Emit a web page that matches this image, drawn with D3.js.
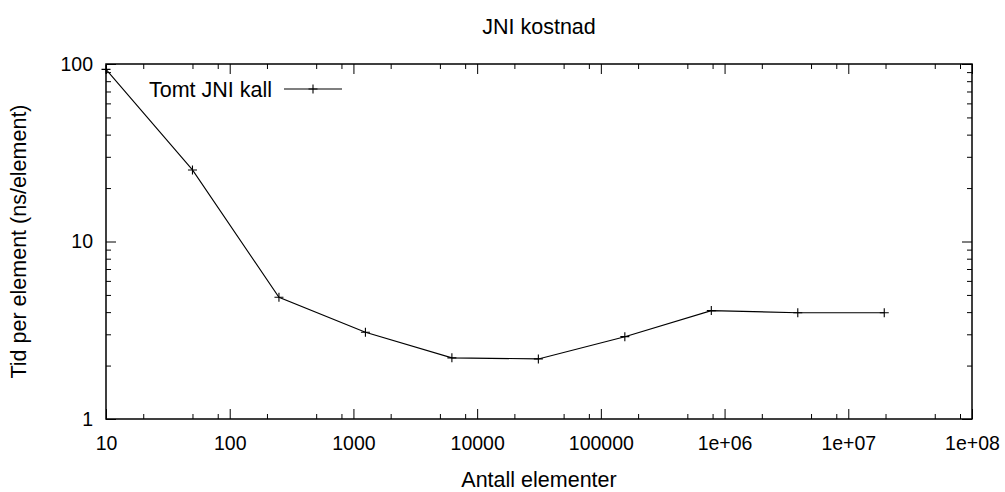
<!DOCTYPE html>
<html>
<head>
<meta charset="utf-8">
<script src="https://cdn.jsdelivr.net/npm/d3@7"></script>
<style>
  html, body { margin: 0; padding: 0; background: #fff; }
  svg { display: block; font-family: "Liberation Sans", Arial, Helvetica, sans-serif; }
</style>
</head>
<body>
<svg id="chart" width="1005" height="492"></svg>
<script>
// Cost of an empty JNI call per element, by number of elements
const elementCounts = [10, 50, 250, 1250, 6250, 31250, 156250, 781250, 3906250, 19531250];
const nsPerElement  = [93.3, 25.3, 4.85, 3.08, 2.21, 2.18, 2.91, 4.08, 3.97, 3.97];

const xMajorTicks = [10, 100, 1000, 10000, 100000, 1e6, 1e7, 1e8];
const xTickLabels = ["10", "100", "1000", "10000", "100000", "1e+06", "1e+07", "1e+08"];
const yMajorTicks = [1, 10, 100];
const yTickLabels = ["1", "10", "100"];

const titleText = "JNI kostnad";
const xLabelText = "Antall elementer";
const yLabelText = "Tid per element (ns/element)";
const seriesName = "Tomt JNI kall";

const svg = d3.select("#chart");
const m = { left: 106, right: 972, top: 64, bottom: 419 };

const x = d3.scaleLog().domain([10, 1e8]).range([m.left, m.right]);
const y = d3.scaleLog().domain([1, 100]).range([m.bottom, m.top]);

// minor ticks: x axis carries 2, 5, 8 per decade; y axis carries 2..9
const xMinor = [];
for (let d = 10; d < 1e8; d *= 10) [2, 5, 8].forEach(k => xMinor.push(d * k));
const yMinor = [];
for (let d = 1; d < 100; d *= 10) for (let k = 2; k <= 9; k++) yMinor.push(d * k);

const majorLen = 10, minorLen = 5;
const tickFont = 19.5, labelFont = 21.5;

const g = svg.append("g");

// bottom axis (labels) and top mirror, ticks pointing inward
g.append("g").attr("transform", `translate(0,${m.bottom})`)
  .call(d3.axisBottom(x).tickValues(xMajorTicks).tickSize(-majorLen).tickPadding(17)
    .tickFormat((d, i) => xTickLabels[i]));
g.append("g").attr("transform", `translate(0,${m.bottom})`)
  .call(d3.axisBottom(x).tickValues(xMinor).tickSize(-minorLen).tickFormat(""));
g.append("g").attr("transform", `translate(0,${m.top})`)
  .call(d3.axisTop(x).tickValues(xMajorTicks).tickSize(-majorLen).tickFormat(""));
g.append("g").attr("transform", `translate(0,${m.top})`)
  .call(d3.axisTop(x).tickValues(xMinor).tickSize(-minorLen).tickFormat(""));

// left axis (labels) and right mirror
g.append("g").attr("transform", `translate(${m.left},0)`)
  .call(d3.axisLeft(y).tickValues(yMajorTicks).tickSize(-majorLen).tickPadding(13)
    .tickFormat((d, i) => yTickLabels[i]));
g.append("g").attr("transform", `translate(${m.left},0)`)
  .call(d3.axisLeft(y).tickValues(yMinor).tickSize(-minorLen).tickFormat(""));
g.append("g").attr("transform", `translate(${m.right},0)`)
  .call(d3.axisRight(y).tickValues(yMajorTicks).tickSize(-majorLen).tickFormat(""));
g.append("g").attr("transform", `translate(${m.right},0)`)
  .call(d3.axisRight(y).tickValues(yMinor).tickSize(-minorLen).tickFormat(""));

g.selectAll(".domain").remove();
g.selectAll(".tick line").attr("stroke", "#000").attr("stroke-width", 1);
g.selectAll(".tick text").attr("fill", "#000").attr("font-size", tickFont)
  .attr("font-family", "Liberation Sans, Arial, sans-serif");

// plot frame
svg.append("rect")
  .attr("x", m.left).attr("y", m.top)
  .attr("width", m.right - m.left).attr("height", m.bottom - m.top)
  .attr("fill", "none").attr("stroke", "#000").attr("stroke-width", 1.5);

// data line
const pts = elementCounts.map((c, i) => [x(c), y(nsPerElement[i])]);
svg.append("path")
  .attr("d", d3.line()(pts))
  .attr("fill", "none").attr("stroke", "#000").attr("stroke-width", 1.1);

// plus markers
const cross = 4.5;
function plus(sel, cx, cy) {
  sel.append("path")
    .attr("d", `M${cx - cross},${cy}H${cx + cross}M${cx},${cy - cross}V${cy + cross}`)
    .attr("stroke", "#000").attr("stroke-width", 1.1).attr("fill", "none");
}
pts.forEach(p => plus(svg, p[0], p[1]));

// title and axis labels
svg.append("text").attr("x", (m.left + m.right) / 2).attr("y", 34)
  .attr("text-anchor", "middle").attr("font-size", labelFont).text(titleText);
svg.append("text").attr("x", (m.left + m.right) / 2).attr("y", 487)
  .attr("text-anchor", "middle").attr("font-size", labelFont).text(xLabelText);
svg.append("text")
  .attr("transform", `translate(26,${(m.top + m.bottom) / 2}) rotate(-90)`)
  .attr("text-anchor", "middle").attr("font-size", labelFont).text(yLabelText);

// legend
const legY = 89;
svg.append("text").attr("x", 272).attr("y", legY).attr("dy", "0.35em")
  .attr("text-anchor", "end").attr("font-size", labelFont).text(seriesName);
svg.append("line").attr("x1", 284).attr("x2", 342).attr("y1", legY).attr("y2", legY)
  .attr("stroke", "#000").attr("stroke-width", 1.1);
plus(svg, 313, legY);
</script>
</body>
</html>
